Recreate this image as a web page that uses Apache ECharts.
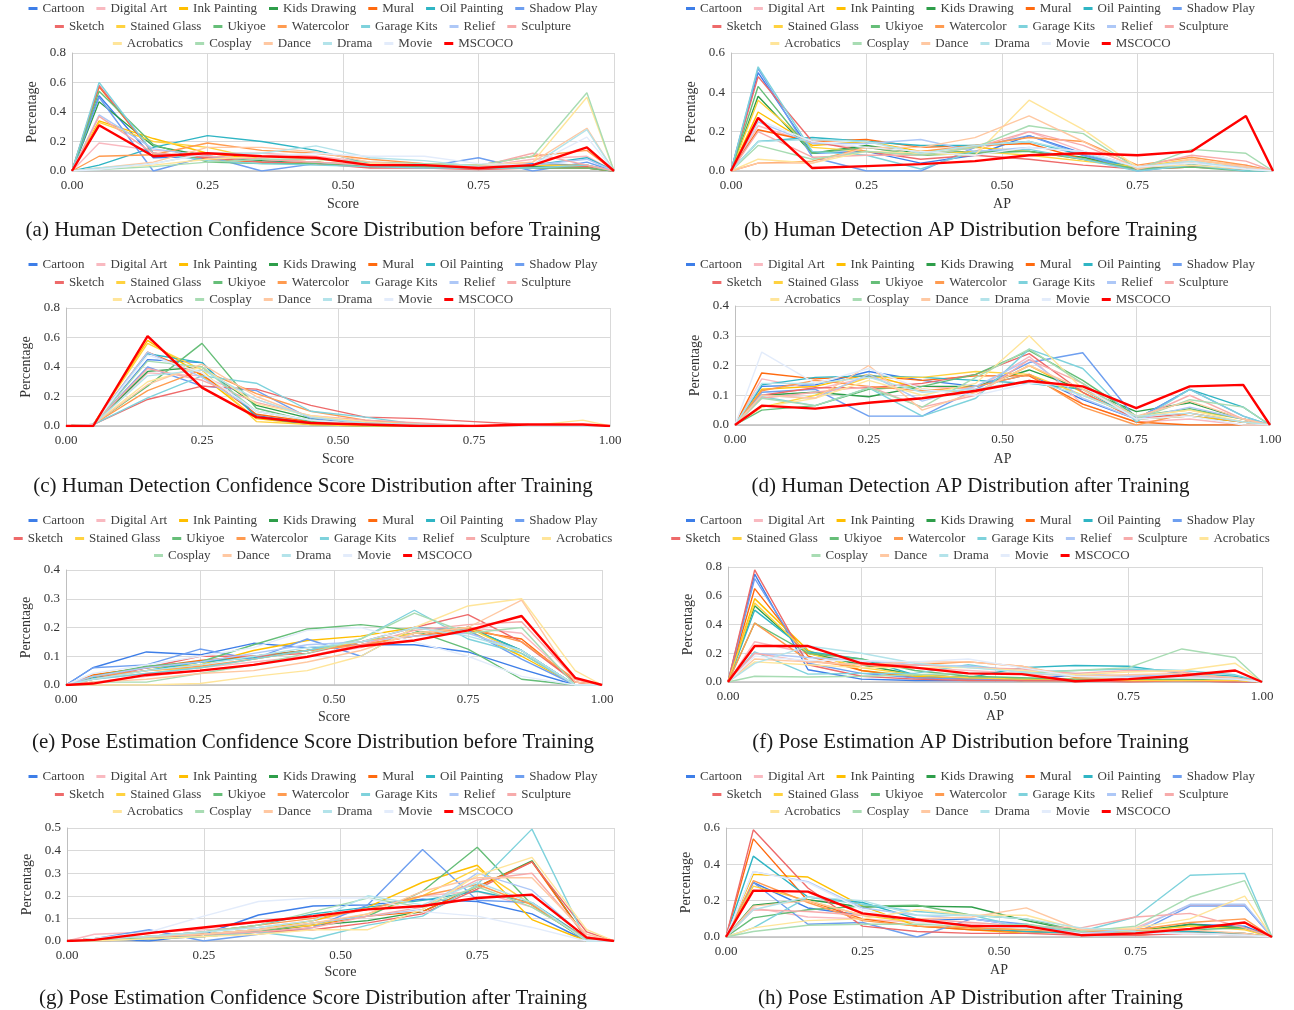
<!DOCTYPE html>
<html>
<head>
<meta charset="utf-8">
<script src="https://cdn.jsdelivr.net/npm/echarts@6/dist/echarts.min.js"></script>
<style>
body { margin: 0; background: #fff; width: 1294px; height: 1010px; position: relative; overflow: hidden; }
.panel { position: absolute; }
</style>
</head>
<body>
<div id="pa" class="panel" style="left:0;top:0;width:626px;height:250px"></div>
<div id="pb" class="panel" style="left:647px;top:0;width:647px;height:250px"></div>
<div id="pc" class="panel" style="left:0;top:256px;width:626px;height:250px"></div>
<div id="pd" class="panel" style="left:647px;top:256px;width:647px;height:250px"></div>
<div id="pe" class="panel" style="left:0;top:512px;width:626px;height:250px"></div>
<div id="pf" class="panel" style="left:647px;top:512px;width:647px;height:250px"></div>
<div id="pg" class="panel" style="left:0;top:768px;width:626px;height:242px"></div>
<div id="ph" class="panel" style="left:647px;top:768px;width:647px;height:242px"></div>
<script>
// domains, in legend order
const names = ['Cartoon', 'Digital Art', 'Ink Painting', 'Kids Drawing', 'Mural', 'Oil Painting', 'Shadow Play',
  'Sketch', 'Stained Glass', 'Ukiyoe', 'Watercolor', 'Garage Kits', 'Relief', 'Sculpture',
  'Acrobatics', 'Cosplay', 'Dance', 'Drama', 'Movie', 'MSCOCO']
const colors = ['#3D7EE8', '#F9B9C0', '#FFBF00', '#2E9E4A', '#FF6A0F', '#2FB5C4', '#6E9FF0',
  '#EE6A6A', '#FFD23F', '#66BE78', '#FF9B50', '#7ED2DC', '#AEC8F7', '#F7ABAB',
  '#FFE59A', '#A8DCB3', '#FFC8A2', '#B3E3EA', '#E3ECFB', '#FF0000']

// bin centres (0.05 ... 0.95); every curve is pinned to 0 at 0 and 1
const binCentres = [0.05, 0.15, 0.25, 0.35, 0.45, 0.55, 0.65, 0.75, 0.85, 0.95]
const xTicks = [0, 0.25, 0.5, 0.75, 1]

// (a) human detection confidence score, before training
const humanScoreBefore = [
  [0.51, 0.09, 0.10, 0.07, 0.06, 0.03, 0.03, 0.02, 0.05, 0.04],
  [0.19, 0.14, 0.12, 0.12, 0.10, 0.06, 0.05, 0.03, 0.08, 0.10],
  [0.34, 0.22, 0.12, 0.08, 0.06, 0.04, 0.03, 0.04, 0.04, 0.03],
  [0.47, 0.17, 0.10, 0.07, 0.06, 0.03, 0.03, 0.02, 0.03, 0.02],
  [0.57, 0.12, 0.08, 0.06, 0.05, 0.03, 0.03, 0.02, 0.02, 0.02],
  [0.04, 0.16, 0.24, 0.20, 0.14, 0.05, 0.04, 0.02, 0.04, 0.09],
  [0.50, 0.00, 0.10, 0.00, 0.05, 0.05, 0.03, 0.09, 0.00, 0.06],
  [0.58, 0.12, 0.09, 0.06, 0.05, 0.02, 0.02, 0.01, 0.02, 0.03],
  [0.33, 0.20, 0.16, 0.08, 0.06, 0.04, 0.03, 0.03, 0.04, 0.04],
  [0.54, 0.18, 0.06, 0.05, 0.05, 0.03, 0.03, 0.02, 0.02, 0.02],
  [0.10, 0.11, 0.19, 0.14, 0.12, 0.08, 0.05, 0.04, 0.10, 0.14],
  [0.60, 0.12, 0.07, 0.05, 0.04, 0.03, 0.02, 0.02, 0.02, 0.04],
  [0.38, 0.15, 0.10, 0.08, 0.06, 0.04, 0.04, 0.03, 0.04, 0.08],
  [0.37, 0.12, 0.10, 0.08, 0.06, 0.04, 0.04, 0.03, 0.12, 0.04],
  [0.02, 0.04, 0.08, 0.10, 0.08, 0.05, 0.05, 0.04, 0.06, 0.50],
  [0.01, 0.03, 0.06, 0.08, 0.08, 0.06, 0.05, 0.04, 0.10, 0.53],
  [0.02, 0.06, 0.16, 0.16, 0.13, 0.06, 0.04, 0.03, 0.06, 0.29],
  [0.02, 0.05, 0.12, 0.12, 0.17, 0.09, 0.07, 0.03, 0.04, 0.28],
  [0.01, 0.05, 0.12, 0.10, 0.12, 0.10, 0.10, 0.05, 0.04, 0.23],
  [0.31, 0.10, 0.12, 0.10, 0.09, 0.04, 0.04, 0.02, 0.04, 0.16]
]

// (b) human detection AP, before training
const humanApBefore = [
  [0.50, 0.09, 0.10, 0.04, 0.08, 0.18, 0.09, 0.01, 0.03, 0.01],
  [0.23, 0.14, 0.12, 0.08, 0.10, 0.20, 0.10, 0.02, 0.05, 0.03],
  [0.30, 0.13, 0.15, 0.10, 0.12, 0.10, 0.06, 0.02, 0.04, 0.01],
  [0.38, 0.09, 0.13, 0.09, 0.10, 0.10, 0.07, 0.01, 0.03, 0.01],
  [0.21, 0.15, 0.16, 0.12, 0.13, 0.14, 0.06, 0.01, 0.02, 0.01],
  [0.15, 0.17, 0.15, 0.13, 0.13, 0.15, 0.08, 0.01, 0.03, 0.01],
  [0.52, 0.07, 0.00, 0.00, 0.12, 0.18, 0.08, 0.00, 0.03, 0.00],
  [0.48, 0.15, 0.10, 0.06, 0.08, 0.06, 0.03, 0.01, 0.02, 0.01],
  [0.36, 0.12, 0.10, 0.08, 0.10, 0.08, 0.05, 0.02, 0.06, 0.02],
  [0.43, 0.09, 0.12, 0.08, 0.09, 0.10, 0.06, 0.01, 0.02, 0.00],
  [0.04, 0.05, 0.12, 0.10, 0.13, 0.17, 0.15, 0.03, 0.07, 0.03],
  [0.53, 0.10, 0.08, 0.01, 0.10, 0.11, 0.06, 0.00, 0.03, 0.00],
  [0.25, 0.14, 0.14, 0.16, 0.10, 0.12, 0.10, 0.02, 0.04, 0.02],
  [0.20, 0.07, 0.08, 0.08, 0.12, 0.20, 0.13, 0.02, 0.08, 0.05],
  [0.06, 0.04, 0.10, 0.09, 0.08, 0.36, 0.21, 0.02, 0.03, 0.01],
  [0.13, 0.06, 0.10, 0.08, 0.12, 0.23, 0.19, 0.01, 0.11, 0.09],
  [0.04, 0.04, 0.12, 0.12, 0.17, 0.28, 0.15, 0.01, 0.06, 0.02],
  [0.15, 0.16, 0.15, 0.09, 0.13, 0.15, 0.09, 0.02, 0.05, 0.01],
  [0.26, 0.15, 0.12, 0.10, 0.08, 0.12, 0.10, 0.02, 0.04, 0.01],
  [0.27, 0.015, 0.025, 0.035, 0.05, 0.08, 0.09, 0.08, 0.10, 0.28]
]

// (c) human detection confidence score, after training
const humanScoreAfter = [
  [0.01, 0.45, 0.43, 0.07, 0.02, 0.01, 0.00, 0.00, 0.00, 0.00],
  [0.01, 0.36, 0.34, 0.18, 0.06, 0.03, 0.01, 0.00, 0.00, 0.00],
  [0.01, 0.58, 0.34, 0.05, 0.01, 0.00, 0.00, 0.00, 0.00, 0.00],
  [0.01, 0.37, 0.40, 0.14, 0.05, 0.02, 0.01, 0.00, 0.00, 0.00],
  [0.01, 0.50, 0.35, 0.08, 0.03, 0.01, 0.00, 0.00, 0.00, 0.00],
  [0.01, 0.49, 0.43, 0.06, 0.01, 0.00, 0.00, 0.00, 0.00, 0.00],
  [0.01, 0.40, 0.27, 0.24, 0.05, 0.02, 0.01, 0.00, 0.00, 0.00],
  [0.01, 0.18, 0.27, 0.25, 0.14, 0.06, 0.05, 0.03, 0.01, 0.00],
  [0.01, 0.56, 0.38, 0.03, 0.01, 0.00, 0.00, 0.00, 0.00, 0.00],
  [0.01, 0.27, 0.56, 0.12, 0.03, 0.01, 0.00, 0.00, 0.00, 0.00],
  [0.01, 0.24, 0.38, 0.22, 0.10, 0.04, 0.01, 0.00, 0.00, 0.00],
  [0.01, 0.19, 0.34, 0.29, 0.10, 0.06, 0.01, 0.00, 0.00, 0.00],
  [0.01, 0.50, 0.33, 0.10, 0.04, 0.01, 0.00, 0.00, 0.00, 0.00],
  [0.01, 0.39, 0.31, 0.16, 0.07, 0.04, 0.02, 0.00, 0.00, 0.00],
  [0.01, 0.30, 0.40, 0.15, 0.07, 0.03, 0.01, 0.00, 0.00, 0.04],
  [0.01, 0.44, 0.40, 0.10, 0.04, 0.01, 0.00, 0.00, 0.00, 0.00],
  [0.01, 0.28, 0.42, 0.20, 0.06, 0.02, 0.01, 0.00, 0.00, 0.01],
  [0.01, 0.34, 0.38, 0.18, 0.06, 0.02, 0.01, 0.00, 0.00, 0.00],
  [0.01, 0.48, 0.36, 0.10, 0.04, 0.01, 0.00, 0.00, 0.00, 0.00],
  [0.00, 0.61, 0.26, 0.06, 0.02, 0.01, 0.00, 0.00, 0.01, 0.01]
]

// (d) human detection AP, after training
const humanApAfter = [
  [0.130, 0.135, 0.180, 0.150, 0.130, 0.170, 0.085, 0.020, 0.030, 0.010],
  [0.155, 0.120, 0.160, 0.130, 0.120, 0.230, 0.070, 0.010, 0.020, 0.000],
  [0.120, 0.130, 0.170, 0.120, 0.110, 0.200, 0.110, 0.020, 0.030, 0.010],
  [0.100, 0.110, 0.095, 0.130, 0.130, 0.185, 0.120, 0.045, 0.075, 0.020],
  [0.175, 0.155, 0.165, 0.150, 0.165, 0.165, 0.070, 0.010, 0.000, 0.000],
  [0.135, 0.160, 0.165, 0.160, 0.150, 0.140, 0.120, 0.020, 0.120, 0.060],
  [0.110, 0.120, 0.030, 0.030, 0.120, 0.210, 0.243, 0.020, 0.120, 0.030],
  [0.100, 0.125, 0.125, 0.140, 0.170, 0.240, 0.110, 0.020, 0.040, 0.010],
  [0.060, 0.100, 0.160, 0.160, 0.180, 0.170, 0.100, 0.030, 0.050, 0.020],
  [0.050, 0.065, 0.120, 0.130, 0.170, 0.250, 0.150, 0.030, 0.055, 0.020],
  [0.115, 0.150, 0.130, 0.115, 0.130, 0.170, 0.060, 0.000, 0.040, 0.010],
  [0.095, 0.065, 0.125, 0.030, 0.090, 0.255, 0.190, 0.010, 0.120, 0.030],
  [0.100, 0.090, 0.170, 0.080, 0.130, 0.220, 0.090, 0.020, 0.060, 0.020],
  [0.090, 0.110, 0.130, 0.060, 0.100, 0.220, 0.140, 0.020, 0.100, 0.020],
  [0.060, 0.090, 0.150, 0.100, 0.140, 0.300, 0.120, 0.030, 0.050, 0.010],
  [0.090, 0.065, 0.125, 0.060, 0.160, 0.255, 0.140, 0.020, 0.085, 0.060],
  [0.100, 0.090, 0.200, 0.050, 0.110, 0.200, 0.120, 0.030, 0.080, 0.020],
  [0.140, 0.140, 0.160, 0.110, 0.120, 0.150, 0.100, 0.030, 0.040, 0.010],
  [0.245, 0.140, 0.190, 0.120, 0.100, 0.140, 0.130, 0.020, 0.030, 0.000],
  [0.065, 0.055, 0.075, 0.090, 0.115, 0.148, 0.130, 0.057, 0.130, 0.135]
]

// (e) pose estimation confidence score, before training
const poseScoreBefore = [
  [0.060, 0.115, 0.105, 0.145, 0.130, 0.140, 0.140, 0.115, 0.055, 0.000],
  [0.020, 0.040, 0.060, 0.080, 0.100, 0.130, 0.180, 0.200, 0.180, 0.010],
  [0.035, 0.060, 0.070, 0.120, 0.155, 0.170, 0.200, 0.190, 0.100, 0.000],
  [0.030, 0.060, 0.080, 0.100, 0.120, 0.150, 0.180, 0.200, 0.120, 0.000],
  [0.035, 0.060, 0.085, 0.100, 0.120, 0.140, 0.170, 0.190, 0.160, 0.010],
  [0.025, 0.050, 0.080, 0.095, 0.120, 0.150, 0.180, 0.200, 0.120, 0.000],
  [0.060, 0.070, 0.125, 0.090, 0.160, 0.100, 0.200, 0.190, 0.090, 0.000],
  [0.020, 0.060, 0.100, 0.100, 0.110, 0.150, 0.200, 0.245, 0.150, 0.010],
  [0.020, 0.050, 0.060, 0.090, 0.120, 0.150, 0.180, 0.200, 0.110, 0.000],
  [0.030, 0.065, 0.080, 0.140, 0.195, 0.210, 0.190, 0.125, 0.020, 0.000],
  [0.030, 0.050, 0.065, 0.090, 0.120, 0.140, 0.170, 0.200, 0.150, 0.020],
  [0.020, 0.040, 0.060, 0.090, 0.120, 0.160, 0.260, 0.160, 0.110, 0.000],
  [0.030, 0.060, 0.080, 0.110, 0.140, 0.150, 0.170, 0.180, 0.120, 0.000],
  [0.010, 0.030, 0.050, 0.070, 0.100, 0.140, 0.190, 0.210, 0.220, 0.020],
  [0.000, 0.000, 0.005, 0.030, 0.050, 0.100, 0.200, 0.275, 0.300, 0.050],
  [0.010, 0.010, 0.040, 0.070, 0.110, 0.160, 0.250, 0.180, 0.200, 0.000],
  [0.010, 0.020, 0.040, 0.050, 0.080, 0.120, 0.180, 0.200, 0.295, 0.010],
  [0.020, 0.050, 0.070, 0.100, 0.130, 0.150, 0.200, 0.170, 0.120, 0.000],
  [0.040, 0.070, 0.100, 0.130, 0.190, 0.200, 0.150, 0.100, 0.030, 0.000],
  [0.005, 0.035, 0.050, 0.070, 0.098, 0.135, 0.155, 0.190, 0.240, 0.025]
]

// (f) pose estimation AP, before training
const poseApBefore = [
  [0.75, 0.085, 0.02, 0.01, 0.01, 0.01, 0.05, 0.02, 0.03, 0.01],
  [0.28, 0.20, 0.13, 0.10, 0.08, 0.06, 0.04, 0.04, 0.04, 0.03],
  [0.58, 0.22, 0.08, 0.04, 0.02, 0.01, 0.01, 0.01, 0.02, 0.01],
  [0.53, 0.20, 0.12, 0.05, 0.03, 0.02, 0.01, 0.01, 0.02, 0.01],
  [0.65, 0.18, 0.08, 0.03, 0.02, 0.01, 0.01, 0.01, 0.01, 0.00],
  [0.50, 0.21, 0.16, 0.05, 0.03, 0.10, 0.115, 0.11, 0.06, 0.04],
  [0.72, 0.13, 0.06, 0.03, 0.02, 0.01, 0.01, 0.01, 0.01, 0.00],
  [0.78, 0.12, 0.04, 0.02, 0.01, 0.01, 0.01, 0.00, 0.01, 0.00],
  [0.55, 0.20, 0.10, 0.05, 0.03, 0.02, 0.02, 0.01, 0.01, 0.01],
  [0.41, 0.20, 0.16, 0.08, 0.04, 0.03, 0.02, 0.02, 0.02, 0.02],
  [0.41, 0.15, 0.10, 0.12, 0.14, 0.11, 0.03, 0.03, 0.03, 0.02],
  [0.21, 0.055, 0.06, 0.06, 0.12, 0.07, 0.08, 0.09, 0.08, 0.05],
  [0.20, 0.17, 0.15, 0.12, 0.11, 0.08, 0.06, 0.04, 0.05, 0.03],
  [0.20, 0.14, 0.12, 0.12, 0.10, 0.09, 0.06, 0.08, 0.07, 0.02],
  [0.14, 0.12, 0.10, 0.10, 0.10, 0.08, 0.05, 0.07, 0.08, 0.13],
  [0.04, 0.035, 0.04, 0.05, 0.06, 0.06, 0.08, 0.10, 0.23, 0.17],
  [0.16, 0.14, 0.12, 0.14, 0.14, 0.11, 0.04, 0.05, 0.06, 0.03],
  [0.13, 0.25, 0.20, 0.13, 0.10, 0.07, 0.04, 0.03, 0.03, 0.02],
  [0.18, 0.15, 0.15, 0.14, 0.16, 0.10, 0.04, 0.03, 0.03, 0.02],
  [0.25, 0.25, 0.13, 0.10, 0.06, 0.055, 0.005, 0.02, 0.045, 0.08]
]

// (g) pose estimation confidence score, after training
const poseScoreAfter = [
  [0.010, 0.000, 0.030, 0.115, 0.155, 0.160, 0.185, 0.175, 0.120, 0.000],
  [0.030, 0.040, 0.050, 0.060, 0.090, 0.140, 0.200, 0.220, 0.150, 0.010],
  [0.010, 0.020, 0.030, 0.050, 0.090, 0.150, 0.260, 0.335, 0.095, 0.000],
  [0.010, 0.020, 0.030, 0.040, 0.070, 0.090, 0.130, 0.240, 0.355, 0.010],
  [0.010, 0.010, 0.030, 0.050, 0.070, 0.110, 0.130, 0.240, 0.350, 0.010],
  [0.010, 0.020, 0.040, 0.070, 0.120, 0.150, 0.180, 0.220, 0.170, 0.010],
  [0.010, 0.050, 0.000, 0.030, 0.060, 0.160, 0.405, 0.180, 0.170, 0.000],
  [0.000, 0.010, 0.020, 0.040, 0.050, 0.080, 0.120, 0.230, 0.350, 0.040],
  [0.010, 0.020, 0.030, 0.050, 0.070, 0.120, 0.200, 0.320, 0.160, 0.000],
  [0.010, 0.010, 0.020, 0.040, 0.080, 0.110, 0.220, 0.415, 0.160, 0.000],
  [0.010, 0.020, 0.040, 0.070, 0.100, 0.140, 0.200, 0.250, 0.160, 0.010],
  [0.000, 0.010, 0.020, 0.040, 0.010, 0.070, 0.110, 0.250, 0.495, 0.000],
  [0.010, 0.020, 0.030, 0.050, 0.080, 0.110, 0.140, 0.300, 0.225, 0.010],
  [0.010, 0.020, 0.030, 0.040, 0.060, 0.110, 0.150, 0.270, 0.300, 0.020],
  [0.000, 0.010, 0.020, 0.030, 0.050, 0.050, 0.140, 0.290, 0.370, 0.050],
  [0.010, 0.020, 0.040, 0.070, 0.130, 0.190, 0.150, 0.240, 0.150, 0.010],
  [0.010, 0.020, 0.030, 0.050, 0.080, 0.120, 0.220, 0.280, 0.280, 0.030],
  [0.010, 0.020, 0.040, 0.060, 0.090, 0.200, 0.160, 0.260, 0.170, 0.000],
  [0.010, 0.040, 0.110, 0.175, 0.190, 0.190, 0.130, 0.110, 0.060, 0.000],
  [0.005, 0.035, 0.060, 0.085, 0.110, 0.140, 0.155, 0.190, 0.205, 0.015]
]

// (h) pose estimation AP, after training
const poseApAfter = [
  [0.300, 0.160, 0.120, 0.090, 0.100, 0.060, 0.020, 0.020, 0.070, 0.060],
  [0.160, 0.110, 0.100, 0.080, 0.070, 0.050, 0.040, 0.050, 0.175, 0.175],
  [0.345, 0.330, 0.170, 0.060, 0.040, 0.020, 0.030, 0.040, 0.060, 0.050],
  [0.175, 0.205, 0.165, 0.170, 0.165, 0.090, 0.030, 0.030, 0.070, 0.050],
  [0.540, 0.200, 0.100, 0.060, 0.040, 0.030, 0.020, 0.010, 0.030, 0.020],
  [0.445, 0.220, 0.190, 0.100, 0.050, 0.030, 0.020, 0.020, 0.030, 0.020],
  [0.300, 0.070, 0.080, 0.000, 0.100, 0.070, 0.020, 0.020, 0.170, 0.170],
  [0.590, 0.270, 0.060, 0.030, 0.020, 0.020, 0.010, 0.010, 0.020, 0.010],
  [0.280, 0.200, 0.120, 0.080, 0.050, 0.040, 0.030, 0.030, 0.060, 0.040],
  [0.105, 0.150, 0.170, 0.175, 0.120, 0.100, 0.030, 0.040, 0.040, 0.050],
  [0.310, 0.190, 0.090, 0.060, 0.050, 0.040, 0.030, 0.040, 0.080, 0.100],
  [0.050, 0.220, 0.180, 0.140, 0.120, 0.050, 0.030, 0.110, 0.340, 0.350],
  [0.360, 0.305, 0.160, 0.120, 0.100, 0.060, 0.020, 0.040, 0.180, 0.180],
  [0.150, 0.140, 0.120, 0.100, 0.080, 0.060, 0.050, 0.110, 0.130, 0.050],
  [0.050, 0.090, 0.100, 0.150, 0.120, 0.120, 0.040, 0.050, 0.100, 0.225],
  [0.030, 0.065, 0.070, 0.070, 0.060, 0.070, 0.030, 0.060, 0.220, 0.310],
  [0.170, 0.200, 0.120, 0.100, 0.110, 0.160, 0.040, 0.040, 0.040, 0.020],
  [0.150, 0.220, 0.200, 0.120, 0.120, 0.100, 0.050, 0.030, 0.020, 0.010],
  [0.360, 0.300, 0.150, 0.080, 0.060, 0.050, 0.020, 0.020, 0.020, 0.010],
  [0.255, 0.250, 0.130, 0.095, 0.060, 0.060, 0.010, 0.020, 0.045, 0.080]
]

const rowsStd = [names.slice(0, 7), names.slice(7, 14), names.slice(14)]
const rowsWide = [names.slice(0, 7), names.slice(7, 15), names.slice(15)]

const FONT = '"Liberation Serif", "Times New Roman", serif'

const panels = [
  { id: 'pa', rows: rowsStd, data: humanScoreBefore, yMax: 0.8, yStep: 0.2, xName: 'Score', showMax: false,
    grid: { left: 72, top: 53, width: 542, height: 118 }, yGap: 30, xGap: 26,
    caption: '(a) Human Detection Confidence Score Distribution before Training' },
  { id: 'pb', rows: rowsStd, data: humanApBefore, yMax: 0.6, yStep: 0.2, xName: 'AP', showMax: false,
    grid: { left: 84, top: 53, width: 542, height: 118 }, yGap: 28, xGap: 26,
    caption: '(b) Human Detection AP Distribution before Training' },
  { id: 'pc', rows: rowsStd, data: humanScoreAfter, yMax: 0.8, yStep: 0.2, xName: 'Score', showMax: true,
    grid: { left: 66, top: 52, width: 544, height: 118 }, yGap: 26, xGap: 26,
    caption: '(c) Human Detection Confidence Score Distribution after Training' },
  { id: 'pd', rows: rowsStd, data: humanApAfter, yMax: 0.4, yStep: 0.1, xName: 'AP', showMax: true,
    grid: { left: 88, top: 50, width: 535, height: 119 }, yGap: 28, xGap: 27,
    caption: '(d) Human Detection AP Distribution after Training' },
  { id: 'pe', rows: rowsWide, data: poseScoreBefore, yMax: 0.4, yStep: 0.1, xName: 'Score', showMax: true,
    grid: { left: 66, top: 58, width: 536, height: 115 }, yGap: 28, xGap: 25,
    caption: '(e) Pose Estimation Confidence Score Distribution before Training' },
  { id: 'pf', rows: rowsWide, data: poseApBefore, yMax: 0.8, yStep: 0.2, xName: 'AP', showMax: true,
    grid: { left: 81, top: 55, width: 534, height: 115 }, yGap: 30, xGap: 27,
    caption: '(f) Pose Estimation AP Distribution before Training' },
  { id: 'pg', rows: rowsStd, data: poseScoreAfter, yMax: 0.5, yStep: 0.1, xName: 'Score', showMax: false,
    grid: { left: 67, top: 60, width: 547, height: 113 }, yGap: 26, xGap: 24,
    caption: '(g) Pose Estimation Confidence Score Distribution after Training' },
  { id: 'ph', rows: rowsStd, data: poseApAfter, yMax: 0.6, yStep: 0.2, xName: 'AP', showMax: false,
    grid: { left: 79, top: 60, width: 546, height: 109 }, yGap: 26, xGap: 26,
    caption: '(h) Pose Estimation AP Distribution after Training' }
]

const drawPanel = (p) => {
  const chart = echarts.init(document.getElementById(p.id))
  const legendRowY = [2, 20, 37]
  chart.setOption({
    animation: false,
    color: colors,
    title: {
      text: p.caption,
      left: 'center',
      top: 215,
      textStyle: { fontFamily: FONT, fontSize: 21, fontWeight: 'normal', color: '#1a1a1a' }
    },
    legend: p.rows.map((row, i) => ({
      data: row,
      top: legendRowY[i],
      left: 'center',
      icon: 'rect',
      itemWidth: 9,
      itemHeight: 3,
      itemGap: 12,
      padding: 0,
      textStyle: { fontFamily: FONT, fontSize: 13, color: '#404040' }
    })),
    grid: p.grid,
    xAxis: {
      type: 'value',
      min: 0,
      max: 1,
      interval: 0.25,
      name: p.xName,
      nameLocation: 'middle',
      nameGap: p.xGap,
      nameTextStyle: { fontFamily: FONT, fontSize: 14, color: '#333' },
      axisLine: { lineStyle: { color: '#BFBFBF', width: 1.5 } },
      axisTick: { show: false },
      axisLabel: {
        fontFamily: FONT, fontSize: 13, color: '#333', margin: 8,
        showMaxLabel: p.showMax,
        formatter: v => xTicks.includes(v) ? v.toFixed(2) : ''
      },
      splitLine: { show: true, lineStyle: { color: '#D9D9D9' } }
    },
    yAxis: {
      type: 'value',
      min: 0,
      max: p.yMax,
      interval: p.yStep,
      name: 'Percentage',
      nameLocation: 'middle',
      nameGap: p.yGap,
      nameTextStyle: { fontFamily: FONT, fontSize: 14, color: '#333' },
      axisLine: { show: true, lineStyle: { color: '#BFBFBF' } },
      axisTick: { show: false },
      axisLabel: { fontFamily: FONT, fontSize: 13, color: '#333', margin: 6, formatter: v => v.toFixed(1) },
      splitLine: { lineStyle: { color: '#D9D9D9' } }
    },
    series: names.map((name, i) => {
      // pin both ends to zero like the source plots
      const pts = [[0, 0]].concat(binCentres.map((x, j) => [x, p.data[i][j]]), [[1, 0]])
      const coco = name === 'MSCOCO'
      return {
        name,
        type: 'line',
        symbol: 'none',
        data: pts,
        z: coco ? 5 : 2,
        lineStyle: { width: coco ? 2.4 : 1.4, color: colors[i] },
        itemStyle: { color: colors[i] },
        emphasis: { disabled: true }
      }
    })
  })
}

panels.forEach(drawPanel)
</script>
</body>
</html>
